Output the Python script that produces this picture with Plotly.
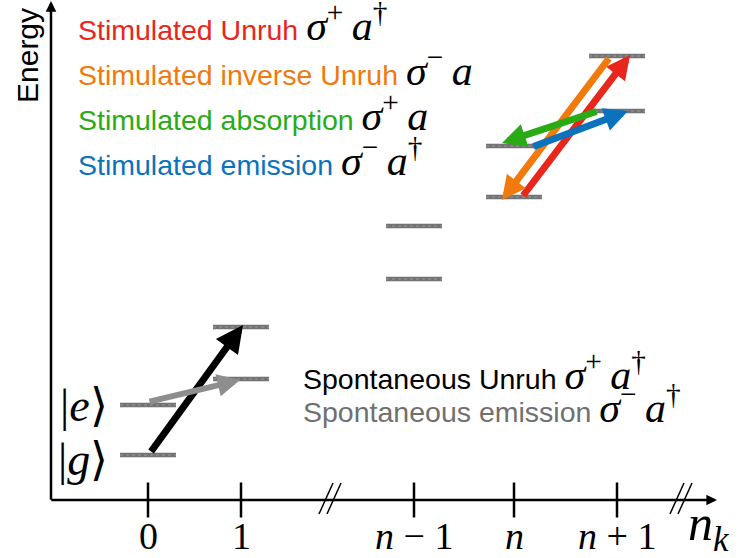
import plotly.graph_objects as go

# ---------------- data ----------------
col_labels = ["0", "1", "<i>n</i> − 1", "<i>n</i>", "<i>n</i> + 1"]
col_pos = [0.0, 0.93, 2.66, 3.66, 4.69]          # position of each photon-number column
ground_E = [0.45, 1.21, 2.21, 3.03, 3.89]        # energy of |g, n_k>
excited_E = [0.95, 1.73, 2.74, 3.54, 4.44]       # energy of |e, n_k>
break_pos = [1.82, 5.33]                         # axis breaks "//"

# transitions: (from column, from level, to column, to level)
trans_names = ["Spontaneous Unruh", "Spontaneous emission", "Stimulated Unruh",
               "Stimulated inverse Unruh", "Stimulated absorption", "Stimulated emission"]
trans_from_col = [0, 0, 3, 4, 4, 3]
trans_from_lvl = ["g", "e", "g", "e", "g", "e"]
trans_to_col = [1, 1, 4, 3, 3, 4]
trans_to_lvl = ["e", "g", "e", "g", "e", "g"]

# ---------------- styles ----------------
trans_colors = ["#000000", "#8e8e8e", "#e8261b", "#f07a0c", "#2aab16", "#0a73bb"]
trans_widths = [7, 6, 7, 7, 7, 7]
trans_headsize = [0.78, 0.75, 0.68, 0.68, 0.68, 0.68]
# small drawing offsets of tail / head relative to the level centres (x, y)
tail_off = [(0.02, 0.02), (0.0, 0.03), (0.08, 0.0), (-0.07, -0.01), (-0.19, 0.0), (0.18, -0.01)]
head_off = [(0.02, 0.02), (-0.01, -0.01), (0.13, 0.01), (-0.12, -0.03), (-0.12, 0.03), (0.11, 0.0)]

W, H = 745, 558
X0PX, Y0PX, SCALE = 148.0, 500.0, 100.0   # pixel of (0,0) and px per unit


def px2x(p):
    return (p - X0PX) / SCALE


def px2y(p):
    return (Y0PX - p) / SCALE


SANS = "Liberation Sans"
SERIF = "Liberation Serif"
LEVEL_HALF = 0.28
LEVEL_COLOR = "#646464"
THIN = "\u2009"

fig = go.Figure()

# energy levels
lx, ly = [], []
for c, g, e in zip(col_pos, ground_E, excited_E):
    for E in (g, e):
        lx += [c - LEVEL_HALF, c + LEVEL_HALF, None]
        ly += [E, E, None]
fig.add_trace(go.Scatter(x=lx, y=ly, mode="lines",
                         line=dict(color=LEVEL_COLOR, width=4.5),
                         opacity=0.9, hoverinfo="skip", showlegend=False))
fig.add_trace(go.Scatter(x=lx, y=ly, mode="lines",
                         line=dict(color="#9a9a9a", width=1.2, dash="dot"),
                         hoverinfo="skip", showlegend=False))

# tick marks on the n_k axis
fig.add_trace(go.Scatter(x=col_pos, y=[0] * len(col_pos), mode="markers",
                         marker=dict(symbol="line-ns", size=25,
                                     line=dict(color="black", width=2.5)),
                         hoverinfo="skip", showlegend=False))

annotations = []
shapes = []

# axis arrows
axis_left = px2x(51)
annotations.append(dict(x=axis_left, y=px2y(1), ax=axis_left, ay=-0.012,
                        xref="x", yref="y", axref="x", ayref="y", text="",
                        showarrow=True, arrowhead=2, arrowwidth=2.5, arrowsize=0.85,
                        arrowcolor="black"))
annotations.append(dict(x=px2x(717), y=0, ax=axis_left - 0.012, ay=0,
                        xref="x", yref="y", axref="x", ayref="y", text="",
                        showarrow=True, arrowhead=2, arrowwidth=2.5, arrowsize=0.85,
                        arrowcolor="black"))

# axis breaks
for b in break_pos:
    for d in (-0.04, 0.04):
        shapes.append(dict(type="line", xref="x", yref="y",
                           x0=b + d - 0.07, y0=-0.14, x1=b + d + 0.07, y1=0.17,
                           line=dict(color="black", width=1.5)))


def level(ci, l):
    return ground_E[ci] if l == "g" else excited_E[ci]


# transition arrows
for i in range(len(trans_names)):
    xt = col_pos[trans_from_col[i]] + tail_off[i][0]
    yt = level(trans_from_col[i], trans_from_lvl[i]) + tail_off[i][1]
    xh = col_pos[trans_to_col[i]] + head_off[i][0]
    yh = level(trans_to_col[i], trans_to_lvl[i]) + head_off[i][1]
    annotations.append(dict(x=xh, y=yh, ax=xt, ay=yt, xref="x", yref="y",
                            axref="x", ayref="y", text="", showarrow=True,
                            arrowhead=2, arrowwidth=trans_widths[i],
                            arrowsize=trans_headsize[i], arrowcolor=trans_colors[i]))


def math(s, size=42, color="#000000"):
    return ('<span style="font-family:%s;font-size:%dpx;color:%s">%s</span>'
            % (SERIF, size, color, s))


sp_ad = "<i>σ</i><sup>+</sup>" + THIN + "<i>a</i><sup>†</sup>"
sm_a = "<i>σ</i><sup>−</sup>" + THIN + "<i>a</i>"
sp_a = "<i>σ</i><sup>+</sup>" + THIN + "<i>a</i>"
sm_ad = "<i>σ</i><sup>−</sup>" + THIN + "<i>a</i><sup>†</sup>"

legend_rows = [("Stimulated Unruh", sp_ad, trans_colors[2], 22),
               ("Stimulated inverse Unruh", sm_a, trans_colors[3], 67),
               ("Stimulated absorption", sp_a, trans_colors[4], 112),
               ("Stimulated emission", sm_ad, trans_colors[5], 157)]
for txt, m, col, ypx in legend_rows:
    annotations.append(dict(x=px2x(76), y=px2y(ypx), xref="x", yref="y",
                            text=txt + " " + math(m), showarrow=False,
                            xanchor="left", yanchor="middle",
                            font=dict(family=SANS, size=28.5, color=col)))

spont_rows = [("Spontaneous Unruh", sp_ad, "#000000", 371),
              ("Spontaneous emission", sm_ad, "#707070", 404)]
for txt, m, col, ypx in spont_rows:
    annotations.append(dict(x=px2x(301), y=px2y(ypx), xref="x", yref="y",
                            text=txt + " " + math(m), showarrow=False,
                            xanchor="left", yanchor="middle",
                            font=dict(family=SANS, size=28.5, color=col)))

# state labels
annotations.append(dict(x=px2x(110), y=excited_E[0], xref="x", yref="y",
                        text="|<i>e</i>⟩", showarrow=False, xanchor="right",
                        yanchor="middle", font=dict(family=SERIF, size=46, color="black")))
annotations.append(dict(x=px2x(110), y=ground_E[0] - 0.04, xref="x", yref="y",
                        text="|<i>g</i>⟩", showarrow=False, xanchor="right",
                        yanchor="middle", font=dict(family=SERIF, size=46, color="black")))

# tick labels
for c, lab in zip(col_pos, col_labels):
    annotations.append(dict(x=c, y=px2y(536), xref="x", yref="y", text=lab,
                            showarrow=False, xanchor="center", yanchor="middle",
                            font=dict(family=SERIF, size=38, color="black")))

# axis titles
annotations.append(dict(x=px2x(686), y=px2y(527), xref="x", yref="y",
                        text="<i>n</i><sub><i>k</i></sub>", showarrow=False,
                        xanchor="left", yanchor="middle",
                        font=dict(family=SERIF, size=50, color="black")))
annotations.append(dict(x=px2x(27), y=px2y(56), xref="x", yref="y",
                        text="Energy", showarrow=False, textangle=-90,
                        xanchor="center", yanchor="middle",
                        font=dict(family=SANS, size=30, color="black")))

fig.update_layout(
    width=W, height=H,
    margin=dict(l=0, r=0, t=0, b=0),
    paper_bgcolor="white", plot_bgcolor="white",
    xaxis=dict(range=[px2x(0), px2x(W)], visible=False, fixedrange=True),
    yaxis=dict(range=[px2y(H), px2y(0)], visible=False, fixedrange=True),
    annotations=annotations, shapes=shapes, showlegend=False,
)

fig.write_html("out.html", config={"displayModeBar": False},
               post_script="document.body.style.margin='0';")
